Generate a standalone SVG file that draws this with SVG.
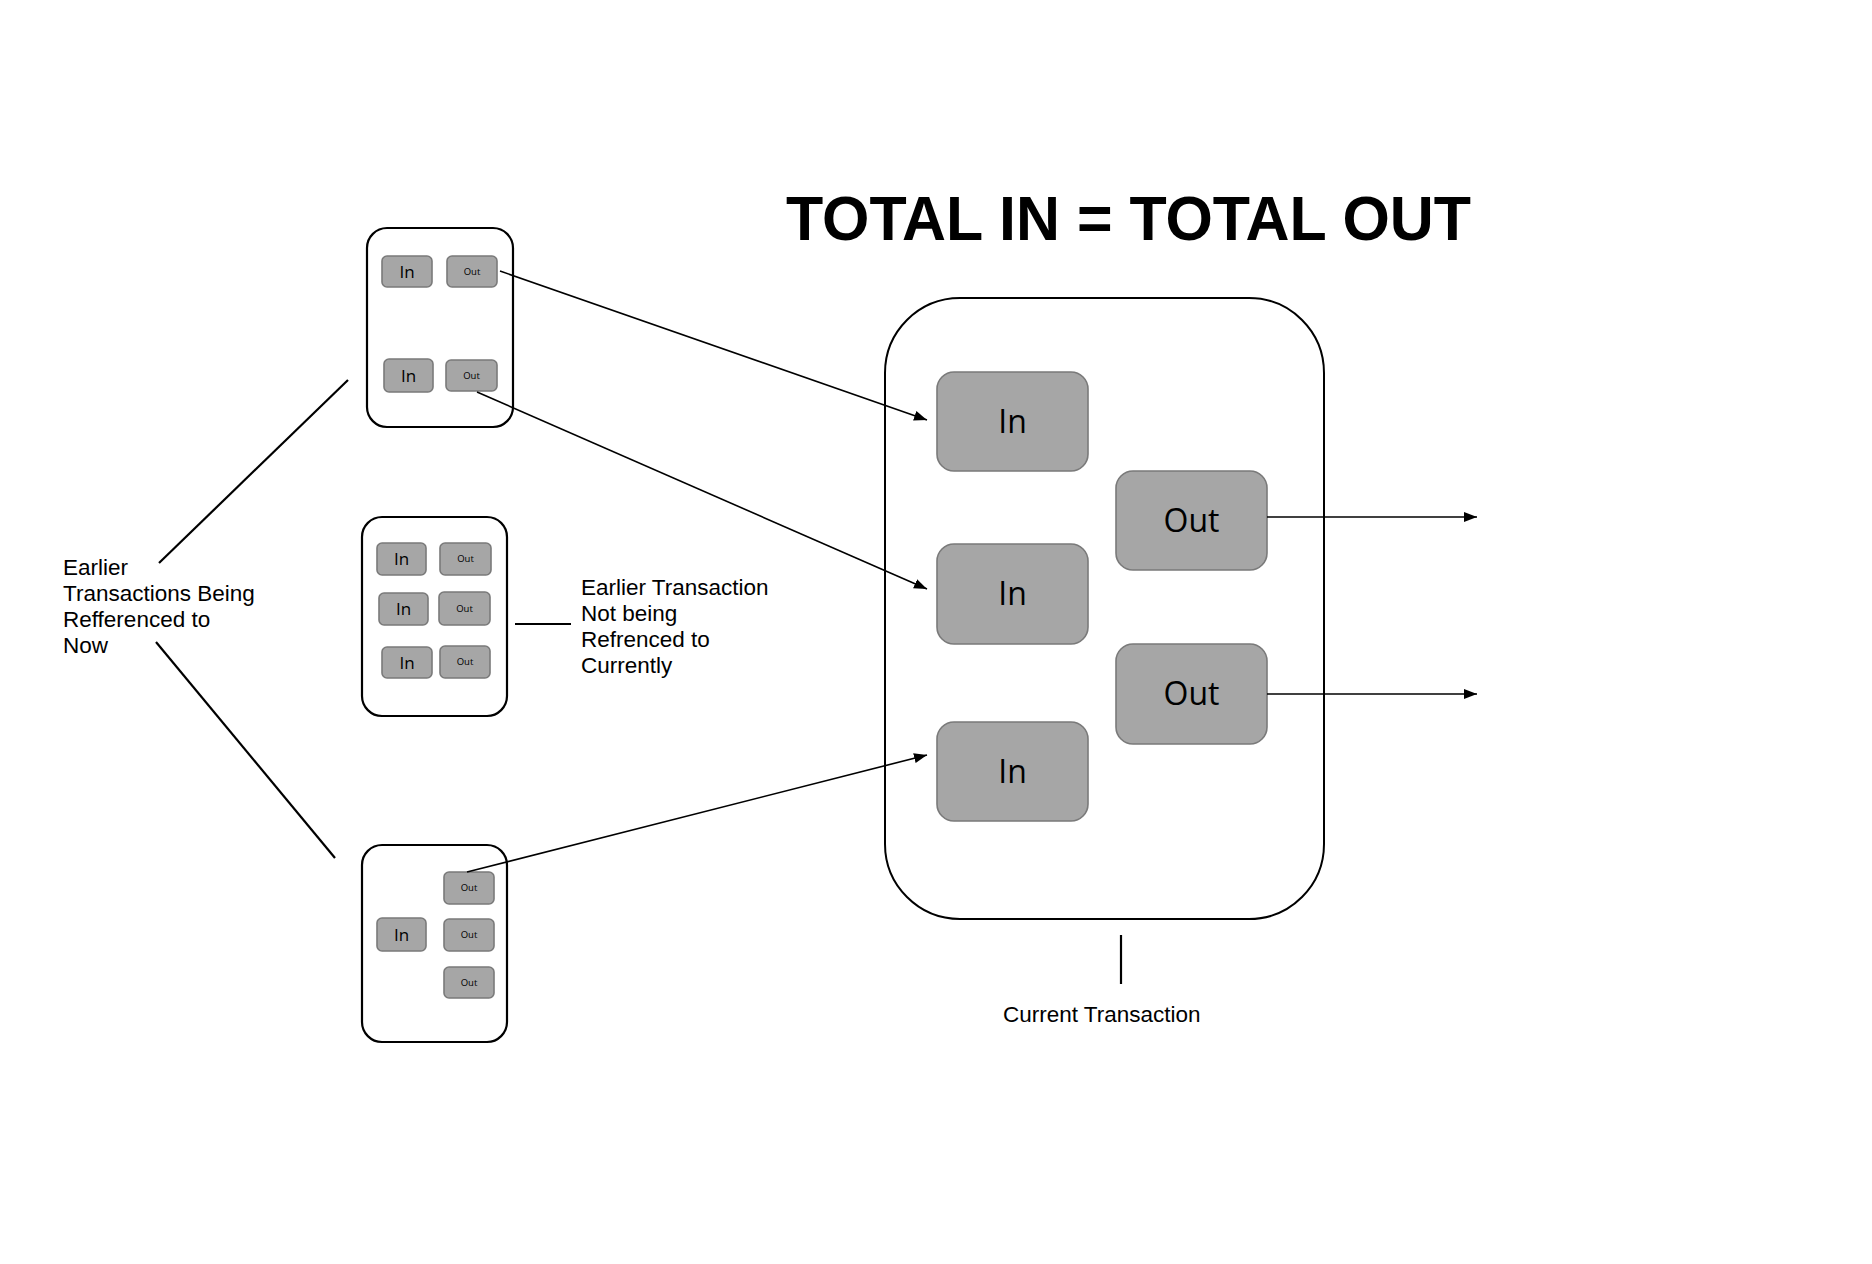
<svg xmlns="http://www.w3.org/2000/svg" width="1872" height="1264" viewBox="0 0 1872 1264">
<defs>
<marker id="ah" markerUnits="userSpaceOnUse" markerWidth="14" markerHeight="10" refX="13" refY="5" orient="auto">
<path d="M0,0 L13,5 L0,10 z" fill="#000"/>
</marker>
<style>
.outer{fill:#fff;stroke:#000;stroke-width:2.2}
.big{fill:#fff;stroke:#000;stroke-width:2}
.cell{fill:#a6a6a6;stroke:#7a7a7a;stroke-width:1.6}
.lbl{font-family:"Open Sans","Noto Sans","DejaVu Sans",sans-serif;fill:#000;text-anchor:middle}
.s{font-size:17px}
.t{font-size:9.5px}
.b{font-size:32px}
.note{font-family:"Liberation Sans",Arial,sans-serif;font-size:22.5px;fill:#000}
.ln{stroke:#000;stroke-width:1.6;fill:none}
.ln2{stroke:#000;stroke-width:2.2;fill:none}
</style>
</defs>
<rect width="1872" height="1264" fill="#fff"/>

<text x="786" y="240" font-family="Liberation Sans,Arial,sans-serif" font-weight="bold" font-size="63" textLength="685" lengthAdjust="spacingAndGlyphs" fill="#000">TOTAL IN = TOTAL OUT</text>

<g id="tx1">
<rect class="outer" x="367" y="228" width="146" height="199" rx="20"/>
<rect class="cell" x="382" y="256" width="50" height="31" rx="5"/>
<text class="lbl s" x="407" y="278">In</text>
<rect class="cell" x="447" y="256" width="50" height="31" rx="5"/>
<text class="lbl t" x="472" y="275">Out</text>
<rect class="cell" x="384" y="359" width="49" height="33" rx="5"/>
<text class="lbl s" x="408.5" y="382">In</text>
<rect class="cell" x="446" y="360" width="51" height="31" rx="5"/>
<text class="lbl t" x="471.5" y="379">Out</text>
</g>

<g id="tx2">
<rect class="outer" x="362" y="517" width="145" height="199" rx="20"/>
<rect class="cell" x="377" y="543" width="49" height="32" rx="5"/>
<text class="lbl s" x="401.5" y="565">In</text>
<rect class="cell" x="440" y="543" width="51" height="32" rx="5"/>
<text class="lbl t" x="465.5" y="562">Out</text>
<rect class="cell" x="379" y="593" width="49" height="32" rx="5"/>
<text class="lbl s" x="403.5" y="615">In</text>
<rect class="cell" x="439" y="592" width="51" height="33" rx="5"/>
<text class="lbl t" x="464.5" y="612">Out</text>
<rect class="cell" x="382" y="647" width="50" height="31" rx="5"/>
<text class="lbl s" x="407" y="669">In</text>
<rect class="cell" x="440" y="646" width="50" height="32" rx="5"/>
<text class="lbl t" x="465" y="665">Out</text>
</g>

<g id="tx3">
<rect class="outer" x="362" y="845" width="145" height="197" rx="20"/>
<rect class="cell" x="444" y="872" width="50" height="32" rx="5"/>
<text class="lbl t" x="469" y="891">Out</text>
<rect class="cell" x="444" y="919" width="50" height="32" rx="5"/>
<text class="lbl t" x="469" y="938">Out</text>
<rect class="cell" x="444" y="967" width="50" height="31" rx="5"/>
<text class="lbl t" x="469" y="986">Out</text>
<rect class="cell" x="377" y="918" width="49" height="33" rx="5"/>
<text class="lbl s" x="401.5" y="941">In</text>
</g>

<g id="current">
<rect class="big" x="885" y="298" width="439" height="621" rx="75"/>
<rect class="cell" x="937" y="372" width="151" height="99" rx="17"/>
<text class="lbl b" x="1012.5" y="433">In</text>
<rect class="cell" x="937" y="544" width="151" height="100" rx="17"/>
<text class="lbl b" x="1012.5" y="605">In</text>
<rect class="cell" x="937" y="722" width="151" height="99" rx="17"/>
<text class="lbl b" x="1012.5" y="783">In</text>
<rect class="cell" x="1116" y="471" width="151" height="99" rx="17"/>
<text class="lbl b" x="1191.5" y="532">Out</text>
<rect class="cell" x="1116" y="644" width="151" height="100" rx="17"/>
<text class="lbl b" x="1191.5" y="705">Out</text>
</g>

<g id="labels">
<text class="note" x="63"><tspan x="63" y="575">Earlier</tspan><tspan x="63" y="601">Transactions Being</tspan><tspan x="63" y="627">Refferenced to</tspan><tspan x="63" y="653">Now</tspan></text>
<text class="note" x="581"><tspan x="581" y="595">Earlier Transaction</tspan><tspan x="581" y="621">Not being</tspan><tspan x="581" y="647">Refrenced to</tspan><tspan x="581" y="673">Currently</tspan></text>
<text class="note" x="1003" y="1022">Current Transaction</text>
</g>

<g id="connectors">
<line class="ln" x1="500" y1="271" x2="927" y2="420" marker-end="url(#ah)"/>
<line class="ln" x1="477" y1="392" x2="927" y2="589" marker-end="url(#ah)"/>
<line class="ln" x1="467" y1="872" x2="927" y2="755" marker-end="url(#ah)"/>
<line class="ln" x1="1267" y1="517" x2="1477" y2="517" marker-end="url(#ah)"/>
<line class="ln" x1="1267" y1="694" x2="1477" y2="694" marker-end="url(#ah)"/>
<line class="ln2" x1="159" y1="563" x2="348" y2="380"/>
<line class="ln2" x1="156" y1="642" x2="335" y2="858"/>
<line class="ln2" x1="515" y1="624" x2="571" y2="624"/>
<line class="ln2" x1="1121" y1="935" x2="1121" y2="984"/>
</g>
</svg>
